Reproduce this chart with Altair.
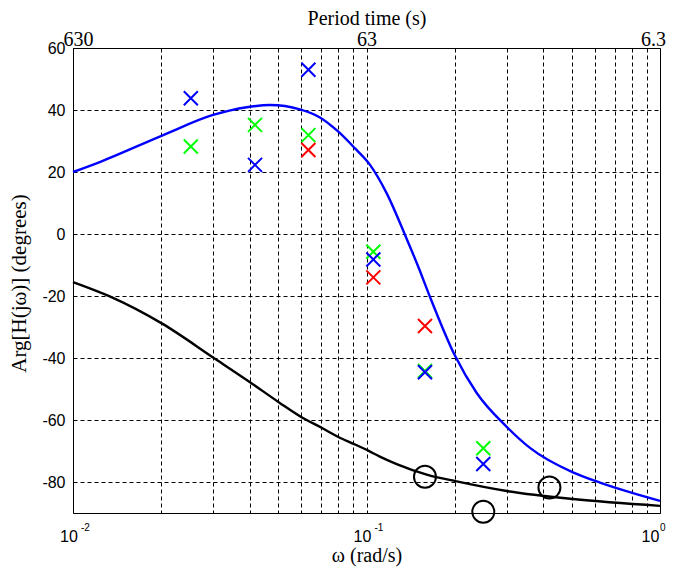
import altair as alt
import pandas as pd

# ---- data ----
blue_curve_w = [0.01, 0.0124, 0.0203, 0.03, 0.0391, 0.0469, 0.0593, 0.0694, 0.0802, 0.0914,
                0.1028, 0.1172, 0.1353, 0.150, 0.163, 0.2003, 0.2374, 0.3005, 0.3606, 0.505,
                0.6244, 0.809, 1.0]
blue_curve_v = [20, 23.3, 31.9, 38.4, 40.9, 41.6, 40.2, 37.6, 33.0, 27.6,
                22.3, 13.1, -0.3, -10.5, -19.3, -39.3, -51.3, -62.2, -69.0, -76.9,
                -80.2, -83.6, -86.1]

black_curve_w = [0.01, 0.0134, 0.0202, 0.0301, 0.0401, 0.0505, 0.0601, 0.0703, 0.0802, 0.0914,
                 0.1014, 0.111, 0.1267, 0.1604, 0.2029, 0.3005, 0.505, 1.0]
black_curve_v = [-15.5, -20.2, -29.0, -39.9, -47.8, -54.4, -59.1, -62.5, -65.5, -67.9,
                 -69.9, -71.8, -74.2, -77.6, -79.8, -82.9, -85.5, -87.7]

cross_w = [0.0252, 0.0417, 0.0634, 0.1055, 0.1582, 0.250]
blue_cross_v = [43.8, 22.3, 53.0, -8.2, -44.6, -74.2]
green_cross_v = [28.2, 35.2, 31.9, -5.7, -44.2, -69.1]
red_cross_w = [0.0634, 0.1055, 0.1582]
red_cross_v = [27.1, -14.0, -29.7]

circle_w = [0.1582, 0.250, 0.42]
circle_v = [-78.3, -89.6, -81.8]

x_grid = [0.01, 0.02, 0.03, 0.04, 0.05, 0.06, 0.07, 0.08, 0.09,
          0.1, 0.2, 0.3, 0.4, 0.5, 0.6, 0.7, 0.8, 0.9, 1.0]
decades = [0.01, 0.1, 1.0]
exponents = ["-2", "-1", "0"]
period_labels = ["630", "63", "6.3"]
y_ticks = [-80, -60, -40, -20, 0, 20, 40, 60]

SANS = "Liberation Sans, Arial, Helvetica, sans-serif"
SERIF = "Liberation Serif, Times New Roman, serif"

W, H = 587, 465

x_scale = alt.Scale(type="log", domain=[0.01, 1], nice=False)
y_scale = alt.Scale(domain=[-90, 60], nice=False, zero=False)

x_axis = alt.Axis(
    values=x_grid,
    labelExpr="(datum.value == 0.01 || datum.value == 0.1 || datum.value == 1) ? '10' : ''",
    title="ω (rad/s)",
    grid=True, gridDash=[4, 3], gridColor="black", gridOpacity=1, gridWidth=1,
    ticks=False, domain=False,
    labelFont=SANS, labelFontSize=16, labelColor="black",
    labelBaseline="alphabetic", labelPadding=28, labelFlush=False, labelOverlap=False,
    labelOffset={"condition": {"test": "datum.value == 1", "value": -10}, "value": -4.5},
    titleFont=SERIF, titleFontSize=20, titleFontWeight="normal", titleColor="black",
    titleBaseline="alphabetic", titleY=48,
)
y_axis = alt.Axis(
    values=y_ticks,
    labelExpr="(datum.value < 0 ? '-' : '') + abs(datum.value)",
    title="Arg[H(jω)] (degrees)",
    grid=True, gridDash=[4, 3], gridColor="black", gridOpacity=1, gridWidth=1,
    ticks=False, domain=False,
    labelFont=SANS, labelFontSize=16, labelColor="black", labelPadding=8,
    titleFont=SERIF, titleFontSize=21, titleFontWeight="normal", titleColor="black",
    titleBaseline="alphabetic", titleX=-48, titleY=235,
)

xe = alt.X("w:Q", scale=x_scale, axis=x_axis)
ye = alt.Y("v:Q", scale=y_scale, axis=y_axis)

blue_df = pd.DataFrame({"w": blue_curve_w, "v": blue_curve_v})
black_df = pd.DataFrame({"w": black_curve_w, "v": black_curve_v})
bx_df = pd.DataFrame({"w": cross_w, "v": blue_cross_v})
gx_df = pd.DataFrame({"w": cross_w, "v": green_cross_v})
rx_df = pd.DataFrame({"w": red_cross_w, "v": red_cross_v})
circ_df = pd.DataFrame({"w": circle_w, "v": circle_v})
exp_df = pd.DataFrame({"w": decades, "t": exponents})

XSHAPE = "M-1,-1L1,1M-1,1L1,-1"

blue_line = alt.Chart(blue_df).mark_line(color="#0000ff", strokeWidth=2.4, interpolate="monotone").encode(x=xe, y=ye)
black_line = alt.Chart(black_df).mark_line(color="black", strokeWidth=2.4, interpolate="monotone").encode(x=xe, y=ye)


def crosses(df, col):
    return alt.Chart(df).mark_point(shape=XSHAPE, size=196, strokeWidth=2, filled=False,
                                    color=col, opacity=1).encode(x=xe, y=ye)


green_x = crosses(gx_df, "#00ff00")
red_x = crosses(rx_df, "#ff0000")
blue_x = crosses(bx_df, "#0000ff")

circles = alt.Chart(circ_df).mark_point(shape="circle", size=484, strokeWidth=2, filled=False,
                                        color="black", opacity=1).encode(x=xe, y=ye)

exp_a = alt.Chart(exp_df[exp_df["t"] != "0"]).mark_text(
    align="left", baseline="alphabetic", font=SANS, fontSize=10, color="black", dx=8, dy=18
).encode(x=xe, y=alt.datum(-90), text="t:N")
exp_b = alt.Chart(exp_df[exp_df["t"] == "0"]).mark_text(
    align="left", baseline="alphabetic", font=SANS, fontSize=10, color="black", dx=0, dy=18
).encode(x=xe, y=alt.datum(-90), text="t:N")

main = alt.layer(blue_line, black_line, green_x, red_x, blue_x, circles, exp_a, exp_b)

top_df = pd.DataFrame({"w": decades, "p": period_labels})
top_axis = alt.Axis(
    orient="top", values=decades,
    labelExpr="datum.value == 0.01 ? '630' : (datum.value == 0.1 ? '63' : '6.3')",
    title="Period time (s)", grid=False, ticks=False, domain=False,
    labelFont=SERIF, labelFontSize=20, labelColor="black",
    labelBaseline="alphabetic", labelPadding=3, labelFlush=False, labelOverlap=False,
    labelOffset={"condition": [{"test": "datum.value == 0.01", "value": 5},
                               {"test": "datum.value == 1", "value": -7}], "value": 0},
    titleFont=SERIF, titleFontSize=20, titleFontWeight="normal", titleColor="black",
    titleBaseline="alphabetic", titleY=-24,
)
top = alt.Chart(top_df).mark_point(opacity=0).encode(
    x=alt.X("w:Q", scale=alt.Scale(type="log", domain=[0.01, 1], nice=False), axis=top_axis)
)

chart = alt.layer(main, top).resolve_scale(x="independent").properties(
    width=W, height=H,
    autosize=alt.AutoSizeParams(type="none"),
    padding={"left": 65, "top": 40, "right": 8, "bottom": 60},
    background="white",
).configure_view(stroke="black", strokeWidth=1)

chart.save("out.html", embed_options={"renderer": "svg", "actions": False})
